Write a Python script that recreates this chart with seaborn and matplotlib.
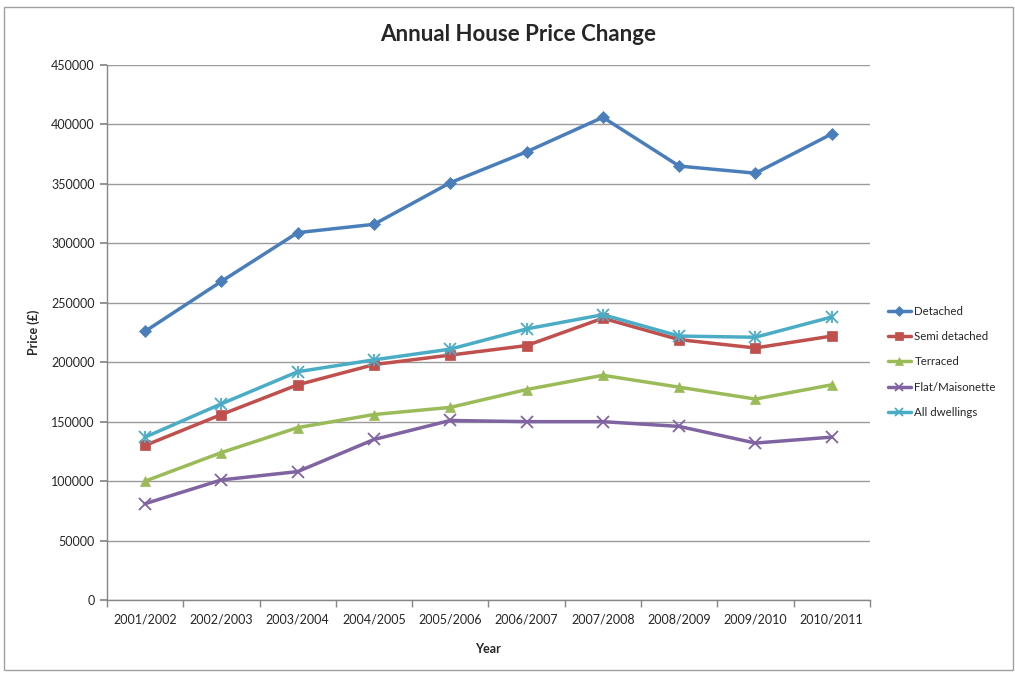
import matplotlib
matplotlib.use("Agg")
import matplotlib.pyplot as plt
import seaborn as sns
import pandas as pd
import numpy as np
from matplotlib.patches import Rectangle

years = ["2001/2002", "2002/2003", "2003/2004", "2004/2005", "2005/2006",
         "2006/2007", "2007/2008", "2008/2009", "2009/2010", "2010/2011"]
detached = [226000, 268000, 309000, 316000, 351000, 377000, 406000, 365000, 359000, 392000]
semi_detached = [130000, 156000, 181000, 198000, 206000, 214000, 237000, 219000, 212000, 222000]
terraced = [100000, 124000, 145000, 156000, 162000, 177000, 189000, 179000, 169000, 181000]
flat_maisonette = [81000, 101000, 108000, 135000, 151000, 150000, 150000, 146000, 132000, 137000]
all_dwellings = [137000, 165000, 192000, 202000, 211000, 228000, 240000, 222000, 221000, 238000]

series_names = ["Detached", "Semi detached", "Terraced", "Flat/Maisonette", "All dwellings"]
series_values = [detached, semi_detached, terraced, flat_maisonette, all_dwellings]
colors = ["#4A7EBB", "#C0504D", "#9BBB59", "#8064A2", "#4BACC6"]
markers = ["D", "s", "^", "x", "x"]

sns.set_theme(style="white")
plt.rcParams['font.family'] = ['Lato', 'DejaVu Sans']

rows = []
for name, vals in zip(series_names, series_values):
    for i, v in enumerate(vals):
        rows.append({"idx": i, "Year": years[i], "Price": v, "Type": name})
df = pd.DataFrame(rows)

fig = plt.figure(figsize=(10.15, 6.73), dpi=100)
ax = fig.add_axes([0.1054, 0.1085, 0.857 - 0.1054, 0.9034 - 0.1085])

for name, col, mk in zip(series_names, colors, markers):
    sub = df[df["Type"] == name]
    ms = 7 if mk in ("D", "s", "^") else 8
    if name == "Detached":
        ms = 6
    sns.lineplot(data=sub, x="idx", y="Price", ax=ax, color=col, marker=mk,
                 markersize=ms, linewidth=2.5, label=name,
                 markeredgecolor=col, markeredgewidth=1.3 if mk == "x" else 0.5)
# asterisk-like marker for All dwellings: overlay a vertical stroke
sub = df[df["Type"] == "All dwellings"]
ax.plot(sub["idx"], sub["Price"], linestyle="none", marker="|", markersize=9,
        color=colors[4], markeredgewidth=1.3)

ax.set_xlim(-0.5, len(years) - 0.5)
ax.set_ylim(0, 450000)
ax.set_yticks(np.arange(0, 450001, 50000))
ax.set_yticklabels([str(v) for v in range(0, 450001, 50000)], fontsize=9)
ax.set_xticks(range(len(years)))
ax.set_xticklabels(years, fontsize=9)
ax.set_xticks(np.arange(-0.5, len(years), 1.0), minor=True)
ax.tick_params(axis="x", which="major", length=0, pad=10)
ax.tick_params(axis="x", which="minor", length=5, color="#868686", direction="out", bottom=True)
ax.tick_params(axis="y", length=5, color="#868686", direction="out", left=True, pad=4)

ax.grid(axis="y", color="#9a9a9a", linewidth=1.0)
ax.grid(axis="x", visible=False)
for s in ["top", "right"]:
    ax.spines[s].set_visible(False)
for s in ["left", "bottom"]:
    ax.spines[s].set_color("#868686")
    ax.spines[s].set_linewidth(1.0)

ax.set_xlabel("Year", fontsize=9, fontweight="bold", labelpad=12)
ax.set_ylabel("Price (£)", fontsize=9, fontweight="bold", labelpad=8)
fig.text(0.51, 0.948, "Annual House Price Change", ha="center", va="center",
         fontsize=16, fontweight="bold")

leg = ax.legend(loc="center left", bbox_to_anchor=(1.01, 0.445), frameon=False,
                fontsize=8.3, handlelength=2.0, handletextpad=0.3, labelspacing=1.25,
                markerscale=0.8)

fig.patches.append(Rectangle((0.004, 0.004), 0.994, 0.985, transform=fig.transFigure,
                             fill=False, edgecolor="#a0a0a0", linewidth=1.0))

fig.savefig("out.png", dpi=100)
